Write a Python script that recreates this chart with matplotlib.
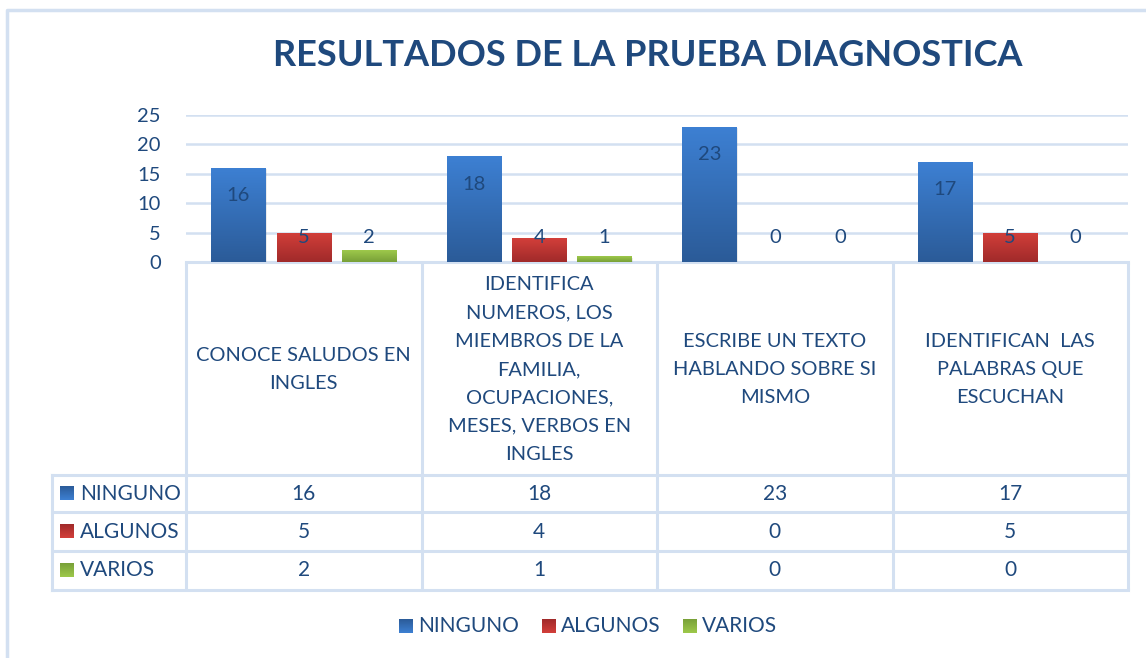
#!/usr/bin/env python3
"""Excel-style clustered column chart with a data table underneath."""
import numpy as np
import matplotlib
matplotlib.use("Agg")
import matplotlib.pyplot as plt
from matplotlib.colors import LinearSegmentedColormap
from matplotlib.patches import Rectangle

TITLE = "RESULTADOS DE LA PRUEBA DIAGNOSTICA"
CATEGORIES = [
    "CONOCE SALUDOS EN\nINGLES",
    "IDENTIFICA\nNUMEROS, LOS\nMIEMBROS DE LA\nFAMILIA,\nOCUPACIONES,\nMESES, VERBOS EN\nINGLES",
    "ESCRIBE UN TEXTO\nHABLANDO SOBRE SI\nMISMO",
    "IDENTIFICAN  LAS\nPALABRAS QUE\nESCUCHAN",
]
SERIES = ["NINGUNO", "ALGUNOS", "VARIOS"]
NINGUNO = [16, 18, 23, 17]
ALGUNOS = [5, 4, 0, 5]
VARIOS = [2, 1, 0, 0]
Y_TICKS = [0, 5, 10, 15, 20, 25]

# gradient colours (top, bottom) per series
GRAD = [("#3d80d3", "#2b5b98"), ("#d33f3a", "#a02a2a"), ("#9ec94b", "#78a038")]
TXT = "#1f497d"
LINE = "#d3e0f1"
FONT = "Lato"

W, H = 1146, 658
PL, PR, PB, PT = 186, 1128, 262, 115     # plot area in pixels
ROWS = [475, 512, 551, 590]              # table row borders
TL = 52                                  # table left edge

plt.rcParams["font.family"] = [FONT, "DejaVu Sans"]

fig = plt.figure(figsize=(W / 100, H / 100), dpi=100)
fig.patch.set_facecolor("white")

# overlay axes in pixel coordinates for frame, table and legend
ov = fig.add_axes([0, 0, 1, 1], zorder=0)
ov.axis("off")

grad = np.linspace(1, 0, 256).reshape(-1, 1)
cmaps = [LinearSegmentedColormap.from_list(f"g{i}", [b, t]) for i, (t, b) in enumerate(GRAD)]


def swatch(x0, yc, si, size=14):
    ov.imshow(grad[::-1], cmap=cmaps[si], aspect="auto",
              extent=(x0, x0 + size, yc + size / 2, yc - size / 2), zorder=3)


# chart border
ov.plot([7, 7, W + 5], [H + 5, 10, 10], color=LINE, lw=2.5)

ov.text(648, 55, TITLE, ha="center", va="center",
        fontsize=26, fontweight="bold", color=TXT)

# bar axes
ax = fig.add_axes([PL / W, 1 - PB / H, (PR - PL) / W, (PB - PT) / H], zorder=2)
ax.patch.set_alpha(0)
for s in ax.spines.values():
    s.set_visible(False)
ax.set_yticks(Y_TICKS)
ax.set_yticklabels([str(t) for t in Y_TICKS], fontsize=14.5, color=TXT)
ax.tick_params(axis="y", length=0, pad=18)
ax.set_xticks([])
for t in Y_TICKS[1:]:
    ax.axhline(t, color=LINE, lw=1.8, zorder=0)

x = np.arange(len(CATEGORIES))
width, step = 0.23, 0.277
values = [NINGUNO, ALGUNOS, VARIOS]
# label placement: inside near top for tall bars, fixed level for short ones
label_override = {(0, 1): -0.2}
for si, vals in enumerate(values):
    xs = x + (si - 1) * step
    bars = ax.bar(xs, vals, width, color="none", edgecolor="none", zorder=3)
    for ci, (b, v) in enumerate(zip(bars, vals)):
        if v > 0:
            x0 = b.get_x()
            # soft shadow
            ax.add_patch(Rectangle((x0 + 0.004, -0.25), width, v, color="#000000",
                                   alpha=0.08, lw=0, zorder=2))
            im = ax.imshow(grad, cmap=cmaps[si], aspect="auto",
                           extent=(x0, x0 + width, 0, v), zorder=3)
            im.set_clip_path(b)
        if v >= 10:
            ly = v + label_override.get((ci, si), -4.75)
        else:
            ly = 4.25
        ax.text(xs[ci], ly, str(v), ha="center", va="center",
                fontsize=14.5, color=TXT, zorder=5)

ax.set_xlim(-0.5, len(CATEGORIES) - 0.5)
ax.set_ylim(0, 25)

# data table
cw = (PR - PL) / len(CATEGORIES)
edges = [PL + i * cw for i in range(len(CATEGORIES) + 1)]
for i, e in enumerate(edges):
    ov.plot([e, e], [PB, ROWS[-1]], color=LINE, lw=2.2, solid_capstyle="butt")
ov.plot([TL, TL], [ROWS[0], ROWS[-1]], color=LINE, lw=2.2)
ov.plot([PL, PR], [PB, PB], color=LINE, lw=2.2)
for r in ROWS:
    ov.plot([TL, PR], [r, r], color=LINE, lw=2.2)

for ci, lab in enumerate(CATEGORIES):
    ov.text((edges[ci] + edges[ci + 1]) / 2, (PB + ROWS[0]) / 2 + 1, lab,
            ha="center", va="center", fontsize=14.4, color=TXT, linespacing=1.8)

for si, (name, vals) in enumerate(zip(SERIES, values)):
    yc = (ROWS[si] + ROWS[si + 1]) / 2
    swatch(60, yc, si)
    ov.text(80, yc, name, ha="left", va="center", fontsize=15, color=TXT)
    for ci, v in enumerate(vals):
        ov.text((edges[ci] + edges[ci + 1]) / 2, yc, str(v), ha="center",
                va="center", fontsize=15, color=TXT)

# legend
leg_x = [399, 542, 683]
for si, name in enumerate(SERIES):
    swatch(leg_x[si], 626, si)
    ov.text(leg_x[si] + 19, 626, name, ha="left", va="center",
            fontsize=15, color=TXT)

ov.set_xlim(0, W)
ov.set_ylim(H, 0)

fig.savefig("out.png", dpi=100, facecolor="white")
